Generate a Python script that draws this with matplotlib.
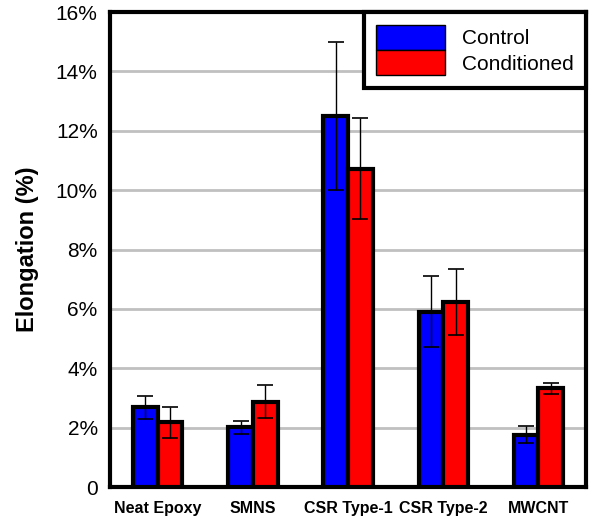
import numpy as np
import matplotlib.pyplot as plt
from matplotlib.ticker import FuncFormatter

plt.rcParams['font.family'] = ['Liberation Sans', 'DejaVu Sans']

# data (percent elongation)
categories = ["Neat Epoxy", "SMNS", "CSR Type-1", "CSR Type-2", "MWCNT"]
control = [2.68, 2.02, 12.5, 5.9, 1.76]
control_err = [0.38, 0.22, 2.5, 1.2, 0.28]
conditioned = [2.18, 2.87, 10.72, 6.23, 3.32]
conditioned_err = [0.52, 0.56, 1.7, 1.1, 0.18]

fig = plt.figure(figsize=(5.89, 5.22), dpi=100)
ax = fig.add_axes([0.187, 0.067, 0.808, 0.91])

x = np.arange(len(categories))
w = 0.26
ax.bar(x - w / 2, control, w, color='#0000ff', edgecolor='black', linewidth=3,
       label='Control', zorder=3)
ax.bar(x + w / 2, conditioned, w, color='#ff0000', edgecolor='black', linewidth=3,
       label='Conditioned', zorder=3)
ax.errorbar(x - w / 2, control, yerr=control_err, fmt='none', ecolor='black',
            elinewidth=1, capsize=6, capthick=1.2, zorder=4)
ax.errorbar(x + w / 2, conditioned, yerr=conditioned_err, fmt='none', ecolor='black',
            elinewidth=1, capsize=6, capthick=1.2, zorder=4)

ax.set_xlim(-0.5, 4.5)
ax.set_ylim(0, 16)
ax.set_yticks(np.arange(0, 17, 2))
ax.yaxis.set_major_formatter(FuncFormatter(lambda v, p: "0" if v == 0 else "%d%%" % v))
ax.yaxis.grid(True, color='#c0c0c0', linewidth=2, zorder=0)
ax.set_axisbelow(True)
ax.set_xticks(x)
ax.set_xticklabels(categories, fontweight='bold', fontsize=11.5)
ax.tick_params(axis='x', length=0, pad=10)
ax.tick_params(axis='y', length=0, labelsize=15, pad=9)
ax.set_ylabel("Elongation (%)", fontsize=17, fontweight='bold', labelpad=12)
for s in ax.spines.values():
    s.set_linewidth(3)

leg = ax.legend(loc='upper right', fontsize=15, frameon=True, fancybox=False,
                framealpha=1, handlelength=3.3, handleheight=1.5, labelspacing=0,
                borderaxespad=0, borderpad=0.6, handletextpad=0.8)
leg.get_frame().set_edgecolor('black')
leg.get_frame().set_linewidth(3)
for h in leg.legend_handles:
    h.set_linewidth(1)

fig.savefig("out.png", dpi=100)
